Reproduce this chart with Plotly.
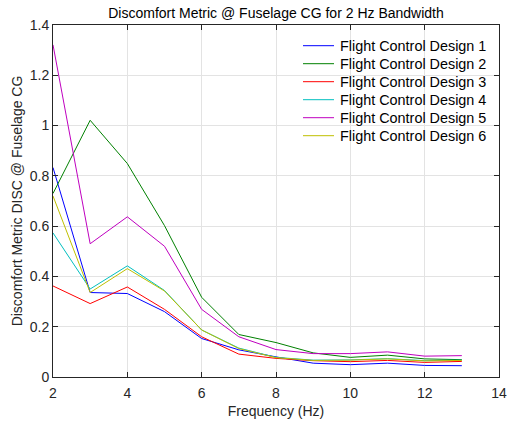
import plotly.graph_objects as go

# Frequencies (Hz) at which the discomfort metric was evaluated
freq = [2, 3, 4, 5, 6, 7, 8, 9, 10, 11, 12, 13]

# Discomfort metric DISC at the fuselage CG for each flight control design
design1 = [0.833, 0.336, 0.332, 0.260, 0.153, 0.108, 0.080, 0.055, 0.049, 0.055, 0.046, 0.045]
design2 = [0.730, 1.021, 0.849, 0.602, 0.317, 0.169, 0.137, 0.096, 0.078, 0.087, 0.072, 0.069]
design3 = [0.362, 0.292, 0.358, 0.269, 0.160, 0.091, 0.074, 0.065, 0.061, 0.066, 0.058, 0.062]
design4 = [0.573, 0.350, 0.442, 0.344, 0.187, 0.115, 0.078, 0.067, 0.068, 0.073, 0.065, 0.067]
design5 = [1.321, 0.530, 0.637, 0.520, 0.269, 0.160, 0.109, 0.093, 0.093, 0.100, 0.083, 0.085]
design6 = [0.720, 0.336, 0.431, 0.342, 0.187, 0.113, 0.077, 0.066, 0.067, 0.072, 0.064, 0.066]

names = [f"Flight Control Design {i}" for i in range(1, 7)]
series = [design1, design2, design3, design4, design5, design6]
colors = ["#0000ff", "#008000", "#ff0000", "#00bfbf", "#bf00bf", "#bfbf00"]

FONT = "Liberation Sans, Arial, Helvetica, sans-serif"

# Figure geometry (pixels)
W, H = 507, 421
ML, MR, MT, MB = 53, 8, 25, 44
PW, PH = W - ML - MR, H - MT - MB

fig = go.Figure()
for name, vals, col in zip(names, series, colors):
    fig.add_trace(go.Scatter(x=freq, y=vals, mode="lines", name=name,
                             line=dict(color=col, width=1), showlegend=False))

# Compact legend drawn in paper coordinates (transparent, no frame)
leg_x0, leg_x1, leg_text_x = 303, 334, 338
leg_y0, leg_dy = 45.7, 18.0
for i, (name, col) in enumerate(zip(names, colors)):
    py = leg_y0 + i * leg_dy
    yp = (MT + PH - py) / PH
    fig.add_shape(type="line", xref="paper", yref="paper",
                  x0=(leg_x0 - ML) / PW, x1=(leg_x1 - ML) / PW, y0=yp, y1=yp,
                  line=dict(color=col, width=1))
    fig.add_annotation(xref="paper", yref="paper", x=(leg_text_x - ML) / PW, y=yp,
                       xanchor="left", yanchor="middle", showarrow=False,
                       text=name, font=dict(family=FONT, size=14.4, color="#000000"))

axis_common = dict(
    showline=True, mirror="ticks", linecolor="#262626", linewidth=1,
    ticks="inside", ticklen=5, tickcolor="#262626",
    showgrid=True, gridcolor="#e3e3e3", gridwidth=1,
    zeroline=False, automargin=False,
    tickfont=dict(family=FONT, size=14, color="#262626"),
)

fig.update_layout(
    width=W, height=H,
    margin=dict(l=ML, r=MR, t=MT, b=MB),
    paper_bgcolor="white", plot_bgcolor="white",
    font=dict(family=FONT, color="#262626"),
    title=dict(text="Discomfort Metric @ Fuselage CG for 2 Hz Bandwidth",
               x=(ML + W - MR) / 2 / W, xanchor="center", y=1 - 13 / H, yanchor="middle",
               font=dict(size=14, color="#000000")),
    xaxis=dict(axis_common, range=[2, 14], tickvals=[2, 4, 6, 8, 10, 12, 14],
               ticklabelstandoff=3,
               title=dict(text="Frequency (Hz)", font=dict(size=14), standoff=6)),
    yaxis=dict(axis_common, range=[0, 1.4],
               tickvals=[0, 0.2, 0.4, 0.6, 0.8, 1.0, 1.2, 1.4],
               ticktext=["0", "0.2", "0.4", "0.6", "0.8", "1", "1.2", "1.4"],
               title=dict(text="Discomfort Metric DISC @ Fuselage CG", font=dict(size=14), standoff=3)),
    showlegend=False,
)

fig.write_html("out.html")
